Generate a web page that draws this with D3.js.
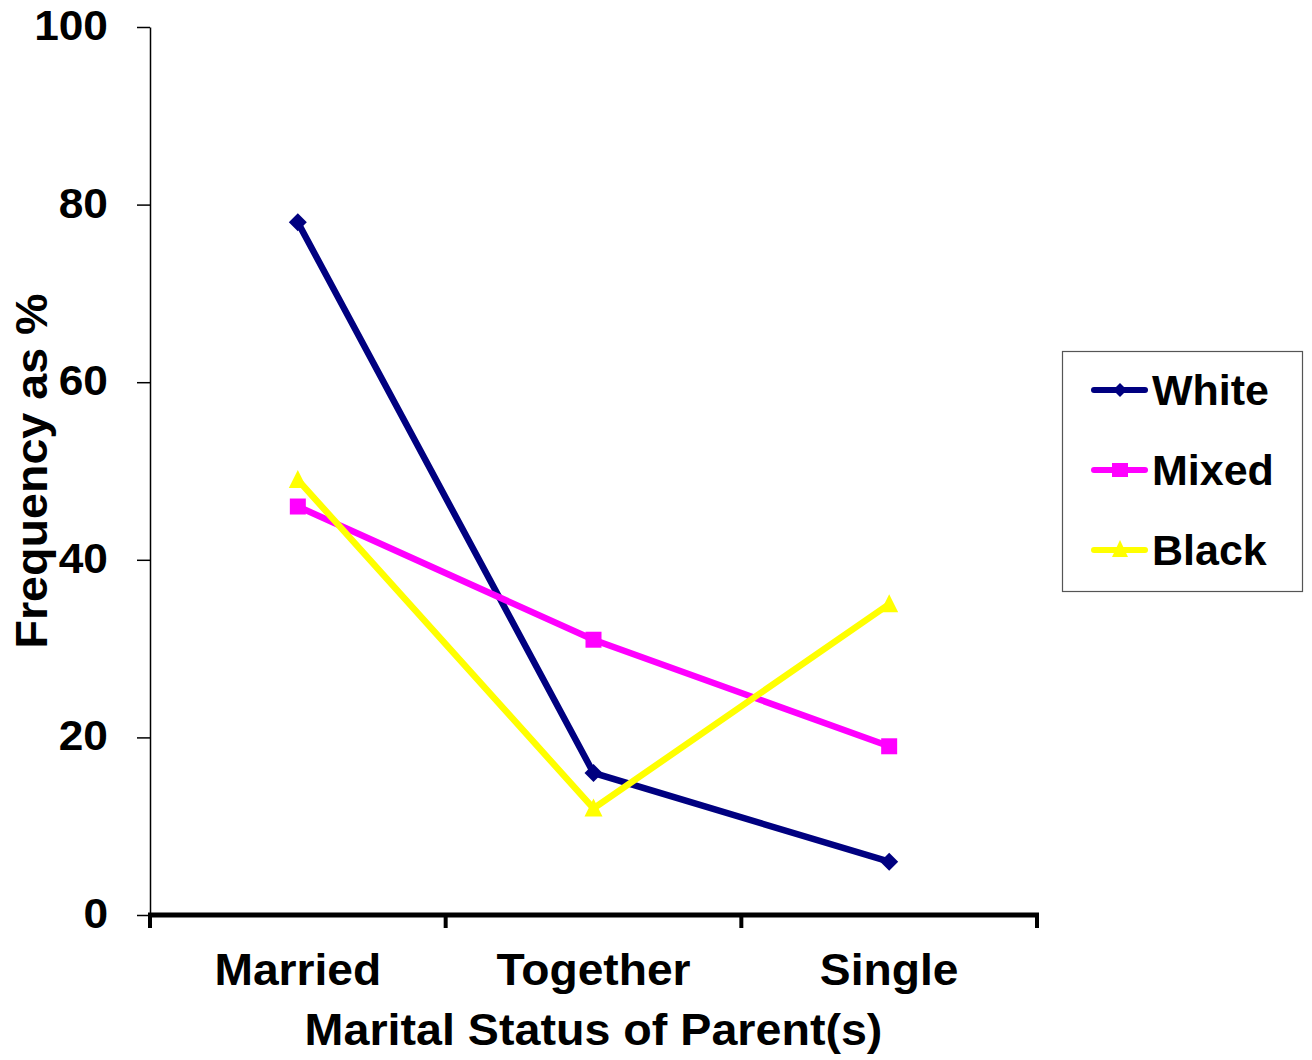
<!DOCTYPE html>
<html>
<head>
<meta charset="utf-8">
<script src="https://cdn.jsdelivr.net/npm/d3@7"></script>
<style>
  html, body { margin: 0; padding: 0; background: #fff; }
  svg { display: block; font-family: "Liberation Sans", Arial, sans-serif; font-weight: bold; }
</style>
</head>
<body>
<svg id="chart" width="1312" height="1060"></svg>
<script>
// Marital status of parent(s) by ethnic group, frequency as %
const categories = ["Married", "Together", "Single"];
const white = [78, 16, 6];
const mixed = [46, 31, 19];
const black = [49, 12, 35];
const yTicks = [0, 20, 40, 60, 80, 100];

const series = [
  { name: "White", values: white, color: "#000080", marker: "diamond" },
  { name: "Mixed", values: mixed, color: "#FF00FF", marker: "square" },
  { name: "Black", values: black, color: "#FFFF00", marker: "triangle" }
];

const svg = d3.select("#chart");
const plotLeft = 150, plotRight = 1037, plotTop = 27, plotBottom = 915;

const x = d3.scaleBand().domain(categories).range([plotLeft, plotRight]);
const y = d3.scaleLinear().domain([0, 100]).range([plotBottom, plotTop]);

// Y axis: thin line with outward ticks
const yAxis = svg.append("g").attr("transform", `translate(${plotLeft},0)`)
  .call(d3.axisLeft(y).tickValues(yTicks).tickSize(13).tickSizeOuter(0).tickPadding(0));
yAxis.select(".domain").attr("stroke", "#000").attr("stroke-width", 1.5);
yAxis.selectAll(".tick line").attr("stroke", "#000").attr("stroke-width", 1.5);
yAxis.selectAll(".tick text")
  .attr("x", null).attr("dy", null)
  .attr("transform", "translate(-42,12.5) scale(1.03,1)")
  .attr("font-size", 43).attr("font-weight", "bold").attr("fill", "#000")
  .attr("font-family", "Liberation Sans, Arial, sans-serif");

// X axis: heavy line, ticks at band boundaries
const bounds = categories.map(c => x(c)).concat([plotRight]);
svg.append("line")
  .attr("x1", plotLeft - 2).attr("x2", plotRight + 2)
  .attr("y1", plotBottom).attr("y2", plotBottom)
  .attr("stroke", "#000").attr("stroke-width", 5);
svg.append("g").selectAll("line").data(bounds).join("line")
  .attr("x1", d => d).attr("x2", d => d)
  .attr("y1", plotBottom).attr("y2", plotBottom + 13)
  .attr("stroke", "#000").attr("stroke-width", 4);
svg.append("g").selectAll("text").data(categories).join("text")
  .attr("transform", d => `translate(${x(d) + x.bandwidth() / 2},985) scale(1.05,1)`)
  .attr("text-anchor", "middle")
  .attr("font-size", 44)
  .text(d => d);

// Axis titles
svg.append("text")
  .attr("transform", `translate(${(plotLeft + plotRight) / 2},1045) scale(1.06,1)`)
  .attr("text-anchor", "middle").attr("font-size", 44)
  .text("Marital Status of Parent(s)");
svg.append("text")
  .attr("transform", `translate(47,${(plotTop + plotBottom) / 2}) rotate(-90) scale(1.06,1)`)
  .attr("text-anchor", "middle").attr("font-size", 44)
  .text("Frequency as %");

// Marker shapes
function diamondPath(s) { return `M0,${-s}L${s},0L0,${s}L${-s},0Z`; }
const markerPath = {
  diamond: diamondPath(9),
  square: "M-8,-8H8V8H-8Z",
  triangle: "M0,-10L9,8H-9Z"
};

const line = d3.line()
  .x((d, i) => x(categories[i]) + x.bandwidth() / 2)
  .y(d => y(d));

series.forEach(s => {
  const g = svg.append("g");
  g.append("path").datum(s.values)
    .attr("d", line).attr("fill", "none")
    .attr("stroke", s.color).attr("stroke-width", 6.5)
    .attr("stroke-linejoin", "miter");
  g.selectAll("path.m").data(s.values).join("path").attr("class", "m")
    .attr("transform", (d, i) => `translate(${x(categories[i]) + x.bandwidth() / 2},${y(d)})`)
    .attr("d", markerPath[s.marker])
    .attr("fill", s.color);
});

// Legend
const legendMarker = {
  diamond: diamondPath(7),
  square: "M-8,-7H8V7H-8Z",
  triangle: "M0,-10L8,7H-8Z"
};
const lg = svg.append("g");
lg.append("rect").attr("x", 1062.5).attr("y", 351.5).attr("width", 240).attr("height", 240)
  .attr("fill", "#fff").attr("stroke", "#555").attr("stroke-width", 1.2);
series.forEach((s, i) => {
  const cy = 390 + i * 80;
  lg.append("line").attr("x1", 1094).attr("x2", 1145).attr("y1", cy).attr("y2", cy)
    .attr("stroke", s.color).attr("stroke-width", 6).attr("stroke-linecap", "round");
  lg.append("path")
    .attr("transform", `translate(1120,${cy})`)
    .attr("d", legendMarker[s.marker])
    .attr("fill", s.color);
  lg.append("text").attr("x", 1152).attr("y", cy + 15)
    .attr("font-size", 43).text(s.name);
});
</script>
</body>
</html>
